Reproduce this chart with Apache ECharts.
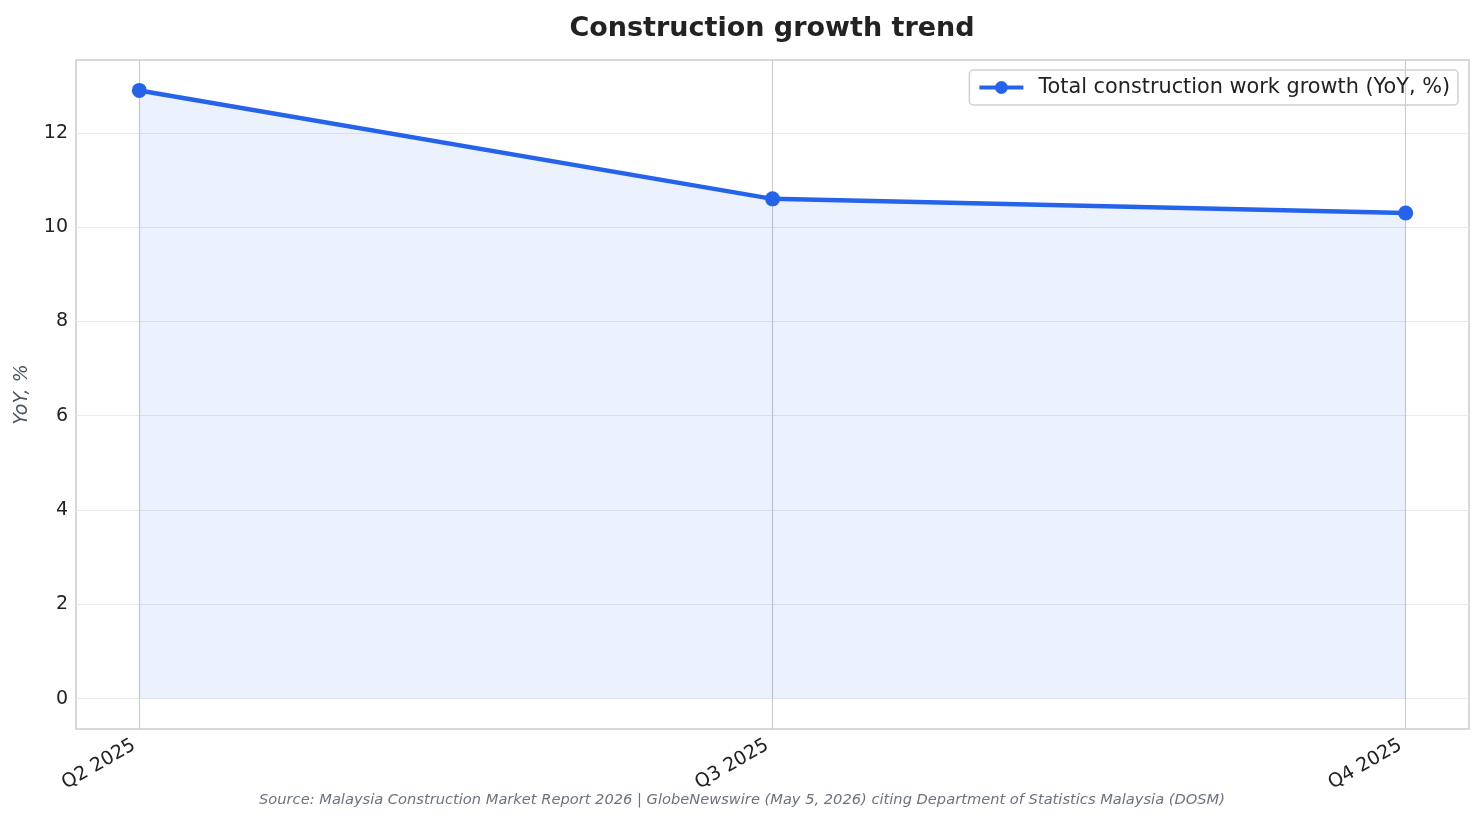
<!DOCTYPE html>
<html><head><meta charset="utf-8">
<script src="https://cdn.jsdelivr.net/npm/echarts@6/dist/echarts.min.js"></script>
<style>html,body{margin:0;padding:0;background:#fff}#c{width:1484px;height:823px}</style>
</head><body><div id="c"></div>
<script>
const categories = ['Q2 2025', 'Q3 2025', 'Q4 2025'];
const growth = [12.9, 10.6, 10.3];
const yTicks = [0, 2, 4, 6, 8, 10, 12];
const seriesName = 'Total construction work growth (YoY, %)';

const dMin = Math.min(0, ...growth), dMax = Math.max(...growth);
const pad = (dMax - dMin) * 0.05;
const xIdx = categories.map((c, i) => i);
const font = '"DejaVu Sans", sans-serif';

const chart = echarts.init(document.getElementById('c'));
chart.setOption({
  animation: false,
  backgroundColor: '#fff',
  title: [{
    text: 'Construction growth trend', left: 767, textAlign: 'center', top: 10,
    textStyle: {fontFamily: font, fontSize: 27, fontWeight: 'bold', color: '#222'}
  }, {
    text: 'Source: Malaysia Construction Market Report 2026 | GlobeNewswire (May 5, 2026) citing Department of Statistics Malaysia (DOSM)',
    left: 737, textAlign: 'center', top: 788,
    textStyle: {fontFamily: font, fontSize: 14.65, fontStyle: 'italic', fontWeight: 'normal', color: '#6b7280'}
  }],
  legend: {
    right: 26, top: 70, padding: [7, 8, 7, 8],
    borderColor: '#d0d0d0', borderWidth: 1.5, borderRadius: 4,
    itemWidth: 44, itemHeight: 16, itemGap: 10,
    lineStyle: {width: 4},
    textStyle: {fontFamily: font, fontSize: 20.8, color: '#222', padding: [0, 0, 0, 10]},
    data: [{name: seriesName}]
  },
  grid: {left: 76, right: 15, top: 60, bottom: 94, outerBoundsMode: 'none', show: true, borderColor: '#cccccc', borderWidth: 1.5, backgroundColor: 'transparent'},
  xAxis: {
    type: 'value', min: -0.1, max: categories.length - 1 + 0.1,
    axisLine: {show: false},
    axisTick: {show: false, customValues: xIdx},
    axisLabel: {customValues: xIdx, rotate: 30, margin: 12, padding: [0, 6, 0, 0], fontFamily: font, fontSize: 19, color: '#222',
      formatter: v => categories[Math.round(v)]},
    splitLine: {show: true, lineStyle: {color: '#cccccc', width: 1.2}}
  },
  yAxis: {
    type: 'value', min: dMin - pad, max: dMax + pad,
    name: 'YoY, %', nameLocation: 'middle', nameGap: 44, nameRotate: 90,
    nameTextStyle: {fontFamily: font, fontSize: 19, fontStyle: 'italic', color: '#4b5563'},
    axisLine: {show: false},
    axisTick: {show: false, customValues: yTicks},
    axisLabel: {customValues: yTicks, margin: 8, padding: [4, 0, 0, 0], fontFamily: font, fontSize: 19, color: '#222'},
    splitLine: {show: true, lineStyle: {color: '#ebebeb', width: 1.2}}
  },
  series: [{
    name: seriesName, type: 'line',
    data: growth.map((v, i) => [xIdx[i], v]),
    symbol: 'circle', symbolSize: 15,
    itemStyle: {color: '#2563eb'},
    lineStyle: {color: '#2563eb', width: 4.5},
    areaStyle: {origin: 0, color: 'rgba(37,99,235,0.085)', opacity: 1}
  }]
});
</script></body></html>
